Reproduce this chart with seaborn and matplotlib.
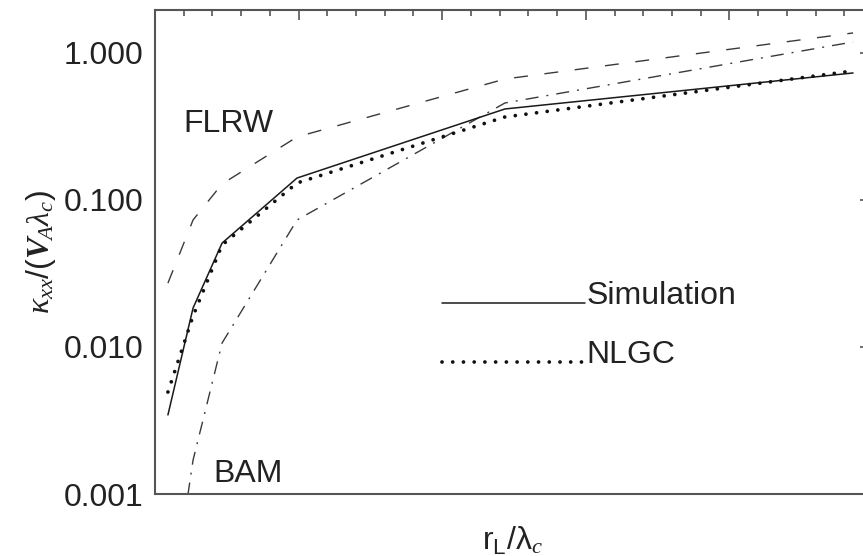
import numpy as np
import pandas as pd
import matplotlib
matplotlib.use("Agg")
import matplotlib.pyplot as plt
from matplotlib.legend_handler import HandlerLine2D
from matplotlib.ticker import FixedLocator, MultipleLocator, LogLocator, FuncFormatter, NullFormatter
import seaborn as sns

# ---- data ----
r_over_lambda = [0.09, 0.265, 0.467, 0.989, 2.437, 4.861]
simulation = [0.00345, 0.0184, 0.0509, 0.141, 0.416, 0.731]
nlgc = [0.00494, 0.01625, 0.0494, 0.1305, 0.367, 0.755]
flrw = [0.0272, 0.0731, 0.1285, 0.2684, 0.665, 1.368]
bam = [0.00012, 0.0017, 0.01064, 0.0731, 0.457, 1.188]
ytick_values = [0.001, 0.01, 0.1, 1.0]
ytick_labels = ["0.001", "0.010", "0.100", "1.000"]

sns.set_style("white")
plt.rcParams["font.family"] = ["Liberation Sans", "DejaVu Sans"]
plt.rcParams["mathtext.fontset"] = "custom"
plt.rcParams["mathtext.rm"] = "Liberation Sans"
plt.rcParams["mathtext.it"] = "Liberation Serif:italic"
plt.rcParams["mathtext.bf"] = "Liberation Serif:bold"
plt.rcParams["mathtext.bfit"] = "Liberation Serif:italic:bold"

FS = 23
SPINE = "#555555"

fig = plt.figure(figsize=(8.63, 5.56), dpi=100)
ax = fig.add_axes([155 / 863, 62 / 556, 715 / 863, 484 / 556])

df = pd.DataFrame({"x": r_over_lambda, "sim": simulation, "nlgc": nlgc,
                   "flrw": flrw, "bam": bam})

sns.lineplot(data=df, x="x", y="flrw", ax=ax, color="#3a3a3a", lw=1.0,
             linestyle=(0, (10, 12)))
sns.lineplot(data=df, x="x", y="bam", ax=ax, color="#3a3a3a", lw=1.0,
             linestyle=(0, (9.4, 5.8, 1.4, 5.8)))
sns.lineplot(data=df, x="x", y="sim", ax=ax, color="#1a1a1a", lw=1.1)
sns.lineplot(data=df, x="x", y="nlgc", ax=ax, color="#111111", lw=2.7,
             linestyle=(0, (0.01, 2.85)), dash_capstyle="round")

lines = ax.get_lines()
h_sim = lines[2]
h_nlgc = lines[3]

ax.set_yscale("log")
ax.set_ylim(0.001, 1.96)
ax.set_xlim(0, 715 / 143.6)

ax.xaxis.set_major_locator(MultipleLocator(1))
ax.xaxis.set_minor_locator(MultipleLocator(0.2))
ax.xaxis.set_major_formatter(NullFormatter())
ax.yaxis.set_major_locator(FixedLocator(ytick_values))
ax.yaxis.set_major_formatter(FuncFormatter(lambda v, p: ytick_labels[ytick_values.index(min(ytick_values, key=lambda t: abs(np.log10(t) - np.log10(v))))]))
ax.yaxis.set_minor_locator(LogLocator(base=10, subs=np.arange(2, 10)))
ax.yaxis.set_minor_formatter(NullFormatter())

ax.tick_params(which="both", direction="in", top=True, right=True,
               color=SPINE, width=1.2, labelsize=FS, labelcolor="#222222")
ax.tick_params(which="major", length=7.2, pad=8.5)
ax.tick_params(which="minor", length=4.0)
for s in ax.spines.values():
    s.set_color(SPINE)
    s.set_linewidth(1.5)

ax.set_xlabel(r"$\mathrm{r_L/\lambda}_c$", fontsize=FS, labelpad=14, color="#222222")
ax.set_ylabel(r"$\kappa_{xx}/(\mathbfit{V}_{\!A}\lambda_c)$", fontsize=FS, labelpad=4, color="#222222")

ax.text(0.195, 0.290, "FLRW", fontsize=FS, va="baseline", ha="left", color="#222222")
ax.text(0.404, 0.00121, "BAM", fontsize=FS, va="baseline", ha="left", color="#222222")


class BaselineHandler(HandlerLine2D):
    def create_artists(self, legend, orig_handle, xdescent, ydescent, width,
                       height, fontsize, trans):
        arts = super().create_artists(legend, orig_handle, xdescent, ydescent,
                                      width, height, fontsize, trans)
        for a in arts:
            a.set_ydata(np.asarray(a.get_ydata(), dtype=float) - 0.33 * fontsize)
        return arts


leg = ax.legend([h_sim, h_nlgc], ["Simulation", "NLGC"], loc="upper left",
                bbox_to_anchor=(442 / 863, 1 - 281 / 556),
                bbox_transform=fig.transFigure, frameon=False, fontsize=FS,
                handlelength=143 / 32, handletextpad=0.05, borderpad=0,
                borderaxespad=0, labelspacing=0.91,
                handler_map={h_sim: BaselineHandler(), h_nlgc: BaselineHandler()})
for t in leg.get_texts():
    t.set_color("#222222")

fig.savefig("out.png", dpi=100)
